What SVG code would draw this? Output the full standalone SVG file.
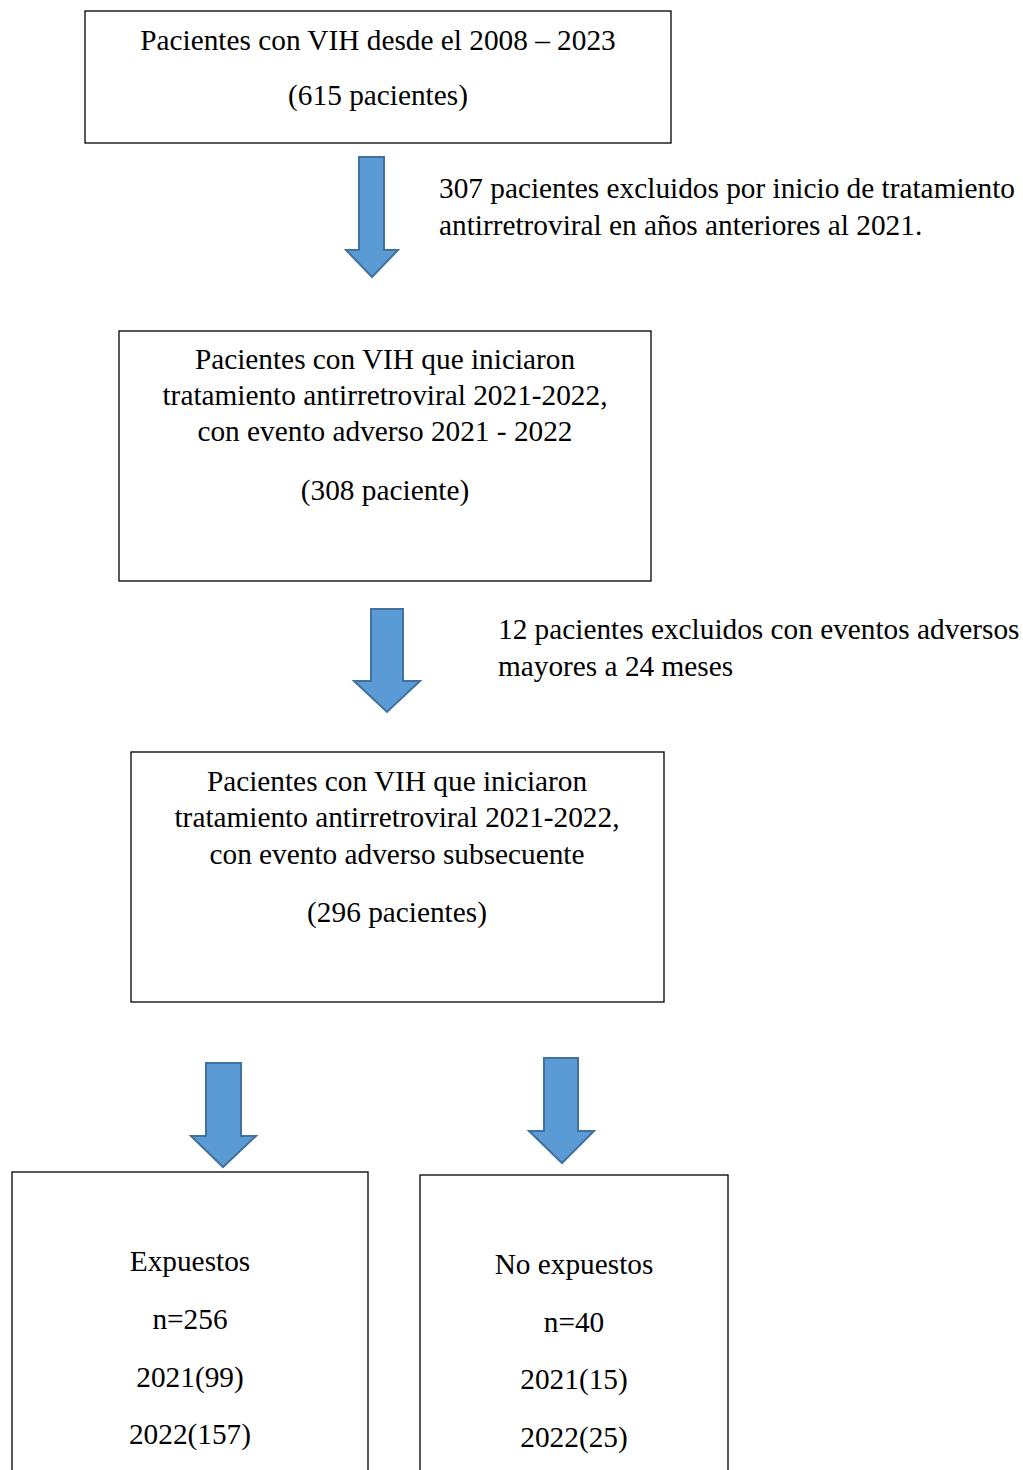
<svg xmlns="http://www.w3.org/2000/svg" width="1023" height="1470" viewBox="0 0 1023 1470">
<style>
.box{fill:#fff;stroke:#000;stroke-width:1.3}
.arr{fill:#5B9BD5;stroke:#41719C;stroke-width:2;stroke-linejoin:miter}
text{font-family:"Liberation Serif","Times New Roman",serif;font-size:29.3px;fill:#000}
.c{text-anchor:middle}
</style>
<rect width="1023" height="1470" fill="#fff"/>
<g id="n1">
<rect class="box" x="85" y="11" width="586" height="132"/>
<text class="c" x="378" y="50">Pacientes con VIH desde el 2008 – 2023</text>
<text class="c" x="378" y="105">(615 pacientes)</text>
</g>
<g id="note1">
<text x="439" y="198">307 pacientes excluidos por inicio de tratamiento</text>
<text x="439" y="235">antirretroviral en años anteriores al 2021.</text>
</g>
<g id="n2">
<rect class="box" x="119" y="331" width="532" height="250"/>
<text class="c" x="385" y="369">Pacientes con VIH que iniciaron</text>
<text class="c" x="385" y="405">tratamiento antirretroviral 2021-2022,</text>
<text class="c" x="385" y="441">con evento adverso 2021 - 2022</text>
<text class="c" x="385" y="500">(308 paciente)</text>
</g>
<g id="note2">
<text x="498" y="639">12 pacientes excluidos con eventos adversos</text>
<text x="498" y="676">mayores a 24 meses</text>
</g>
<g id="n3">
<rect class="box" x="131" y="752" width="533" height="250"/>
<text class="c" x="397" y="791">Pacientes con VIH que iniciaron</text>
<text class="c" x="397" y="827">tratamiento antirretroviral 2021-2022,</text>
<text class="c" x="397" y="864">con evento adverso subsecuente</text>
<text class="c" x="397" y="922">(296 pacientes)</text>
</g>
<g id="n4">
<rect class="box" x="12" y="1172" width="356" height="310"/>
<text class="c" x="190" y="1271">Expuestos</text>
<text class="c" x="190" y="1329">n=256</text>
<text class="c" x="190" y="1387">2021(99)</text>
<text class="c" x="190" y="1444">2022(157)</text>
</g>
<g id="n5">
<rect class="box" x="420" y="1175" width="308" height="310"/>
<text class="c" x="574" y="1274">No expuestos</text>
<text class="c" x="574" y="1332">n=40</text>
<text class="c" x="574" y="1389">2021(15)</text>
<text class="c" x="574" y="1447">2022(25)</text>
</g>
<g id="connectors">
<path class="arr" d="M359,157 H384 V250 H398 L372,277 L346,250 H359 Z"/>
<path class="arr" d="M371,609 H403 V681 H420 L387,712 L354,681 H371 Z"/>
<path class="arr" d="M206,1063 H241 V1136 H256 L223,1167 L191,1136 H206 Z"/>
<path class="arr" d="M544,1058 H578 V1131 H594 L562,1163 L529,1131 H544 Z"/>
</g>
</svg>
